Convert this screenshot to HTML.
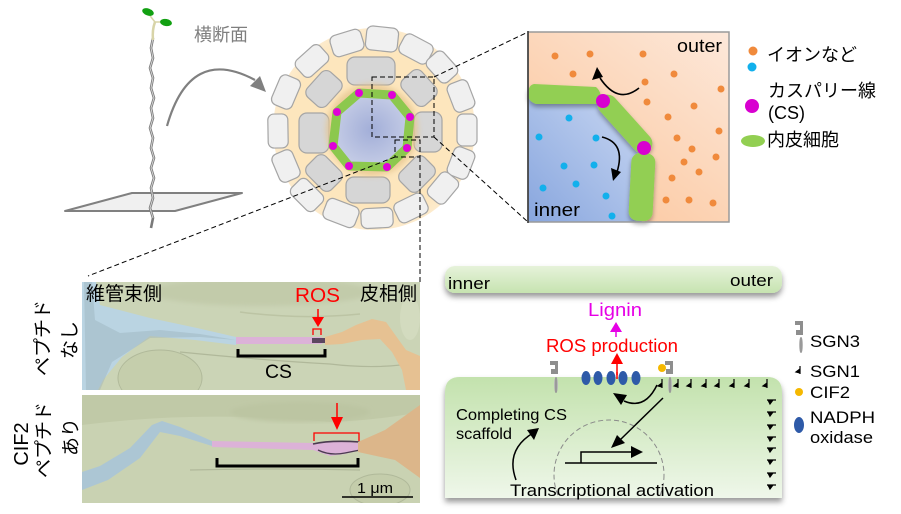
<!DOCTYPE html>
<html><head><meta charset="utf-8"><style>
html,body{margin:0;padding:0;background:#fff;}
svg{display:block;}
</style></head><body>
<svg width="901" height="514" viewBox="0 0 901 514" xmlns="http://www.w3.org/2000/svg" font-family="'Liberation Sans','Noto Sans CJK JP',sans-serif">
<defs>
 <radialGradient id="stele" cx="50%" cy="50%" r="55%"><stop offset="0" stop-color="#a2aed8"/><stop offset="1" stop-color="#c8cfe7"/></radialGradient>
 <radialGradient id="yel" cx="50%" cy="50%" r="50%"><stop offset="0.85" stop-color="#fde6bd"/><stop offset="1" stop-color="#fdebcc"/></radialGradient>
 <linearGradient id="peach" x1="1" y1="0" x2="0.2" y2="1"><stop offset="0" stop-color="#fde8da"/><stop offset="1" stop-color="#fbc69c"/></linearGradient>
 <linearGradient id="blue" x1="1" y1="0" x2="0" y2="1"><stop offset="0" stop-color="#cbd9f3"/><stop offset="1" stop-color="#88a6de"/></linearGradient>
 <linearGradient id="bar" x1="0" y1="0" x2="0" y2="1"><stop offset="0" stop-color="#e6f2da"/><stop offset="1" stop-color="#c6e3b0"/></linearGradient>
 <linearGradient id="cell" x1="0" y1="0" x2="0" y2="1"><stop offset="0" stop-color="#c3e2ad"/><stop offset="1" stop-color="#eff7ea"/></linearGradient>
 <linearGradient id="stem3" x1="0" y1="0" x2="1" y2="0"><stop offset="0" stop-color="#c8c8c8"/><stop offset="0.5" stop-color="#8a8a8a"/><stop offset="1" stop-color="#c8c8c8"/></linearGradient>
 <filter id="sh" x="-20%" y="-20%" width="140%" height="160%"><feDropShadow dx="0" dy="3" stdDeviation="2.5" flood-color="#000" flood-opacity="0.35"/></filter>
 <filter id="sh2" x="-20%" y="-30%" width="140%" height="180%"><feDropShadow dx="0" dy="4" stdDeviation="3" flood-color="#000" flood-opacity="0.4"/></filter>
 <filter id="blur3"><feGaussianBlur stdDeviation="3"/></filter>
 <filter id="blur2"><feGaussianBlur stdDeviation="2"/></filter>
 <clipPath id="cellclip"><path d="M445,392 Q445,377 460,377 L767,377 Q782,377 782,392 L782,498 L445,498 Z"/></clipPath>
 <clipPath id="tem1"><rect x="82" y="282" width="338" height="108"/></clipPath>
 <clipPath id="tem2"><rect x="82" y="395" width="338" height="108"/></clipPath>
</defs>

<!-- ===== Seedling ===== -->
<polygon points="65,211 132,193 242,193 175,211" fill="#f0f0f0" stroke="#808080" stroke-width="2" stroke-linejoin="round"/>
<path d="M153,38 L151,48 L153,58 L150,68 L153,78 L151,88 L154,98 L151,108 L153,118 L150,128 L153,138 L151,148 L154,158 L151,168 L154,178 L151,188 L153,198 L150,208 L153,218 L151,228" fill="none" stroke="#7a7a7a" stroke-width="2.6"/>
<path d="M153,38 L151,48 L153,58 L150,68 L153,78 L151,88 L154,98 L151,108 L153,118 L150,128 L153,138 L151,148 L154,158 L151,168 L154,178 L151,188 L153,198 L150,208 L153,218" fill="none" stroke="#d8d8d8" stroke-width="0.9"/>
<path d="M155,22 Q152,30 153,40" fill="none" stroke="#d8d4a8" stroke-width="2.5"/>
<path d="M155,22 Q150,16 149,14" fill="none" stroke="#d8d4a8" stroke-width="1.5"/>
<path d="M155,22 Q159,22 162,22" fill="none" stroke="#d8d4a8" stroke-width="1.5"/>
<ellipse cx="148" cy="12" rx="6" ry="3.5" transform="rotate(20 148 12)" fill="#12a012"/>
<ellipse cx="166" cy="22.5" rx="6" ry="3.5" transform="rotate(10 166 22.5)" fill="#12a012"/>
<text x="194" y="41" font-size="18" fill="#7f7f7f">横断面</text>
<path d="M167,126 Q190,45 255,80" fill="none" stroke="#808080" stroke-width="2.2"/>
<polygon points="266,92 250,86 260,76" fill="#808080"/>

<!-- ===== Cross section ===== -->
<circle cx="374" cy="129" r="101" fill="url(#yel)"/>
<g fill="#f0f0f0" stroke="#a5a5a5" stroke-width="1.2">
 <rect x="-16" y="-11" width="32" height="22" rx="6" transform="translate(312,61) rotate(-42)"/>
 <rect x="-16" y="-11" width="32" height="22" rx="6" transform="translate(347,43) rotate(-17)"/>
 <rect x="-16" y="-12" width="32" height="24" rx="6" transform="translate(382,39) rotate(6)"/>
 <rect x="-16" y="-11" width="32" height="22" rx="6" transform="translate(416,49) rotate(28)"/>
 <rect x="-15" y="-11" width="30" height="22" rx="6" transform="translate(442,67) rotate(48)"/>
 <rect x="-15" y="-11" width="30" height="22" rx="6" transform="translate(461,96) rotate(69)"/>
 <rect x="-16" y="-10" width="32" height="20" rx="6" transform="translate(467,130) rotate(90)"/>
 <rect x="-15" y="-11" width="30" height="22" rx="6" transform="translate(461,163) rotate(111)"/>
 <rect x="-15" y="-11" width="30" height="22" rx="6" transform="translate(443,188) rotate(130)"/>
 <rect x="-16" y="-11" width="32" height="22" rx="6" transform="translate(411,208) rotate(154)"/>
 <rect x="-16" y="-10" width="32" height="20" rx="6" transform="translate(377,218) rotate(177)"/>
 <rect x="-17" y="-11" width="34" height="22" rx="6" transform="translate(341,213) rotate(201)"/>
 <rect x="-16" y="-11" width="32" height="22" rx="6" transform="translate(307,195) rotate(225)"/>
 <rect x="-15" y="-11" width="30" height="22" rx="6" transform="translate(286,166) rotate(247)"/>
 <rect x="-17" y="-10" width="34" height="20" rx="6" transform="translate(278,131) rotate(269)"/>
 <rect x="-16" y="-11" width="32" height="22" rx="6" transform="translate(286,92) rotate(-67)"/>
</g>
<g fill="#d6d6d6" stroke="#a5a5a5" stroke-width="1.2">
 <rect x="-24" y="-14" width="48" height="28" rx="8" transform="translate(371,71)"/>
 <rect x="-17" y="-13" width="34" height="26" rx="7" transform="translate(419,88) rotate(48)"/>
 <rect x="-20" y="-14" width="40" height="28" rx="8" transform="translate(428,132) rotate(90)"/>
 <rect x="-17" y="-13" width="34" height="26" rx="7" transform="translate(417,174) rotate(135)"/>
 <rect x="-22" y="-13" width="44" height="26" rx="8" transform="translate(368,190) rotate(180)"/>
 <rect x="-17" y="-13" width="34" height="26" rx="7" transform="translate(324,173) rotate(225)"/>
 <rect x="-20" y="-15" width="40" height="30" rx="8" transform="translate(314,133) rotate(270)"/>
 <rect x="-17" y="-13" width="34" height="26" rx="7" transform="translate(324,89) rotate(312)"/>
</g>
<circle cx="372" cy="130" r="46" fill="#e6c690" opacity="0.8" filter="url(#blur3)"/>
<polygon points="359,93 392,95 410,117 407,148 387,167 349,166 333,146 337,112" fill="url(#stele)" stroke="#8cc84e" stroke-width="9" stroke-linejoin="round"/>
<g fill="#e000d8">
 <circle cx="359" cy="93" r="4"/><circle cx="392" cy="95" r="4"/><circle cx="410" cy="117" r="4"/><circle cx="407" cy="148" r="4"/>
 <circle cx="387" cy="167" r="4"/><circle cx="349" cy="166" r="4"/><circle cx="333" cy="146" r="4"/><circle cx="337" cy="112" r="4"/>
</g>
<!-- dashed boxes and connectors -->
<g fill="none" stroke="#000" stroke-width="1" stroke-dasharray="5,3">
 <rect x="372" y="77" width="62" height="60"/>
 <rect x="395" y="140" width="25" height="17"/>
 <line x1="434" y1="77" x2="528" y2="32"/>
 <line x1="434" y1="137" x2="528" y2="222"/>
 <line x1="395" y1="157" x2="88" y2="276"/>
 <line x1="420" y1="157" x2="420" y2="282"/>
</g>

<!-- ===== Inset ===== -->
<rect x="528" y="32" width="201" height="190" fill="url(#peach)"/>
<path d="M528,94 L602,100 L646,150 L642,222 L528,222 Z" fill="url(#blue)"/>
<g fill="#f08a3c">
 <circle cx="555" cy="56" r="3.5"/><circle cx="590" cy="54" r="3.5"/><circle cx="643" cy="54" r="3.5"/><circle cx="573" cy="74" r="3.5"/>
 <circle cx="674" cy="74" r="3.5"/><circle cx="645" cy="82" r="3.5"/><circle cx="721" cy="89" r="3.5"/><circle cx="647" cy="102" r="3.5"/>
 <circle cx="694" cy="106" r="3.5"/><circle cx="668" cy="117" r="3.5"/><circle cx="719" cy="131" r="3.5"/><circle cx="677" cy="138" r="3.5"/>
 <circle cx="692" cy="149" r="3.5"/><circle cx="716" cy="157" r="3.5"/><circle cx="684" cy="162" r="3.5"/><circle cx="699" cy="172" r="3.5"/>
 <circle cx="672" cy="178" r="3.5"/><circle cx="666" cy="200" r="3.5"/><circle cx="689" cy="200" r="3.5"/><circle cx="713" cy="203" r="3.5"/>
</g>
<g fill="#12b0ec">
 <circle cx="569" cy="118" r="3.5"/><circle cx="539" cy="137" r="3.5"/><circle cx="596" cy="138" r="3.5"/><circle cx="564" cy="166" r="3.5"/>
 <circle cx="594" cy="165" r="3.5"/><circle cx="543" cy="188" r="3.5"/><circle cx="576" cy="184" r="3.5"/><circle cx="606" cy="196" r="3.5"/>
 <circle cx="612" cy="216" r="3.5"/>
</g>
<g fill="#92cf52" filter="url(#sh)">
 <path d="M534,84 L596,87 Q604,94 598,104 L536,104 Q527,101 528,92 Q529,85 534,84 Z"/>
 <rect x="-36" y="-10" width="72" height="20" rx="10" transform="translate(625,124) rotate(48)"/>
 <rect x="-12" y="-34" width="24" height="68" rx="9" transform="translate(642,187) rotate(3)"/>
</g>
<circle cx="603" cy="101" r="7" fill="#d800d0"/>
<circle cx="644" cy="148" r="7" fill="#d800d0"/>
<path d="M639,88 Q618,105 600,78" fill="none" stroke="#000" stroke-width="1.6"/>
<polygon points="597,67 592,80 603,77" fill="#000"/>
<path d="M602,137 Q626,143 617,172" fill="none" stroke="#000" stroke-width="1.6"/>
<polygon points="613,181 611,168 621,172" fill="#000"/>
<rect x="528" y="32" width="201" height="190" fill="none" stroke="#9a9a9a" stroke-width="1.5"/>
<line x1="528" y1="31" x2="528" y2="223" stroke="#333" stroke-width="1.5"/>
<text x="677" y="52" font-size="18" fill="#000" textLength="45" lengthAdjust="spacingAndGlyphs">outer</text>
<text x="534" y="216" font-size="18" fill="#000" textLength="46" lengthAdjust="spacingAndGlyphs">inner</text>
<!-- legend -->
<circle cx="753" cy="51" r="4.5" fill="#f08a3c"/>
<circle cx="752" cy="67" r="4.5" fill="#12b0ec"/>
<text x="767" y="61" font-size="18">イオンなど</text>
<circle cx="752" cy="106" r="7" fill="#d800d0"/>
<text x="768" y="97" font-size="18">カスパリー線</text>
<text x="768" y="119" font-size="18">(CS)</text>
<ellipse cx="753" cy="141" rx="12" ry="6" fill="#92cf52"/>
<text x="767" y="146" font-size="18">内皮細胞</text>

<!-- ===== TEM images ===== -->
<g clip-path="url(#tem1)">
 <rect x="82" y="282" width="338" height="108" fill="#cbd4b6"/>
 <ellipse cx="260" cy="292" rx="110" ry="14" fill="#c2cbaa" filter="url(#blur2)"/>
 <ellipse cx="160" cy="378" rx="42" ry="28" fill="#c5ceac" stroke="#b0b99a" stroke-width="1"/>
 <path d="M180,352 Q260,360 330,364 Q380,370 420,362" fill="none" stroke="#b0b89a" stroke-width="1.2"/>
 <path d="M240,312 Q300,320 360,314" fill="none" stroke="#bcc4a4" stroke-width="1.5"/>
 <ellipse cx="410" cy="318" rx="10" ry="22" fill="#d3dbbf"/>
 <path d="M82,282 L96,282 L100,305 L150,318 L197,328 L236,337 L236,345 L195,340 L150,336 L122,357 L103,380 L98,390 L82,390 Z" fill="#bad4e2"/>
 <path d="M84,282 L92,282 L95,320 L120,333 L160,330 L200,334 L236,340 L200,337 L150,338 L112,362 L100,390 L86,390 Z" fill="#98aeb8" opacity="0.4"/>
 <rect x="236" y="337" width="86" height="7" fill="#dcb2d8"/>
 <rect x="312" y="338" width="13" height="5" fill="#5c4660"/>
 <path d="M325,337 L342,332 L356,325 L372,319 L386,322 L396,336 L406,350 L420,356 L420,390 L406,390 L402,370 L392,352 L380,339 L362,340 L342,344 L325,345 Z" fill="#e6c192"/>
</g>
<g clip-path="url(#tem2)">
 <rect x="82" y="395" width="338" height="108" fill="#c9d2b2"/>
 <path d="M82,425 Q200,410 330,422 Q380,420 420,412 L420,395 L82,395 Z" fill="#c0c9a7"/>
 <ellipse cx="300" cy="412" rx="70" ry="10" fill="#bcc5a2" filter="url(#blur2)"/>
 <path d="M190,470 Q280,468 360,470" fill="none" stroke="#b0b89a" stroke-width="1.2"/>
 <ellipse cx="380" cy="490" rx="30" ry="16" fill="#c4cdab" stroke="#b0b99a" stroke-width="1"/>
 <path d="M82,472 L100,466 L130,448 L152,425 L162,421 L180,427 L212,441 L212,446 L180,436 L160,432 L140,458 L108,480 L82,490 Z" fill="#acc6d4"/>
 <path d="M212,441 L313,443 L335,441 L360,443 L360,450 L345,454 L330,456 L313,450 L212,447 Z" fill="#dcb2d8"/>
 <path d="M313,444 Q330,440 360,442" fill="none" stroke="#4a3a50" stroke-width="1.6"/>
 <path d="M318,450 Q330,456 345,453 L360,450" fill="none" stroke="#4a3a50" stroke-width="1.3"/>
 <path d="M358,442 L385,430 L420,405 L420,478 L395,460 L358,452 Z" fill="#dcb68a"/>
</g>
<rect x="82" y="390" width="338" height="5" fill="#fff"/>
<text x="86" y="300" font-size="19">維管束側</text>
<text x="360" y="300" font-size="19">皮相側</text>
<text x="295" y="302" font-size="20" fill="#ff0000" textLength="45" lengthAdjust="spacingAndGlyphs">ROS</text>
<line x1="318" y1="309" x2="318" y2="318" stroke="#ff0000" stroke-width="1.5"/>
<polygon points="312,317 324,317 318,327" fill="#ff0000"/>
<path d="M313,335 V329 H321 V335" fill="none" stroke="#ff0000" stroke-width="1.3"/>
<path d="M238,349 V356 H325 V349" fill="none" stroke="#000" stroke-width="3"/>
<text x="265" y="378" font-size="19" textLength="27" lengthAdjust="spacingAndGlyphs">CS</text>
<line x1="337" y1="403" x2="337" y2="418" stroke="#ff0000" stroke-width="1.5"/>
<polygon points="331,417 343,417 337,430" fill="#ff0000"/>
<path d="M314,441 V433 H359 V441" fill="none" stroke="#ff0000" stroke-width="1.3"/>
<path d="M217,458 V466 H358 V458" fill="none" stroke="#000" stroke-width="3"/>
<line x1="342" y1="497" x2="413" y2="497" stroke="#000" stroke-width="1.5"/>
<text x="357" y="493" font-size="15" textLength="36" lengthAdjust="spacingAndGlyphs">1 μm</text>
<!-- vertical labels -->
<text transform="translate(49,338) rotate(-90)" text-anchor="middle" font-size="19">ペプチド</text>
<text transform="translate(76,340) rotate(-90)" text-anchor="middle" font-size="19">なし</text>
<text transform="translate(28,444) rotate(-90)" text-anchor="middle" font-size="20">CIF2</text>
<text transform="translate(50,440) rotate(-90)" text-anchor="middle" font-size="19">ペプチド</text>
<text transform="translate(77,437) rotate(-90)" text-anchor="middle" font-size="19">あり</text>

<!-- ===== Right model ===== -->
<rect x="445" y="266" width="337" height="27" rx="10" fill="url(#bar)" filter="url(#sh2)"/>
<text x="448" y="289" font-size="17" textLength="42" lengthAdjust="spacingAndGlyphs">inner</text>
<text x="730" y="286" font-size="17" textLength="43" lengthAdjust="spacingAndGlyphs">outer</text>
<text x="588" y="316" font-size="18" fill="#e600e6" textLength="54" lengthAdjust="spacingAndGlyphs">Lignin</text>
<line x1="616" y1="337" x2="616" y2="330" stroke="#e600e6" stroke-width="1.5"/>
<polygon points="610,332 622,332 616,322" fill="#e600e6"/>
<text x="546" y="352" font-size="18" fill="#ff0000" textLength="132" lengthAdjust="spacingAndGlyphs">ROS production</text>
<line x1="617" y1="375" x2="617" y2="362" stroke="#ff0000" stroke-width="1.5"/>
<polygon points="611,364 623,364 617,353" fill="#ff0000"/>

<path d="M445,392 Q445,377 460,377 L767,377 Q782,377 782,392 L782,498 L445,498 Z" fill="url(#cell)" filter="url(#sh2)"/>
<g clip-path="url(#cellclip)">
 <circle cx="609" cy="475" r="55" fill="none" stroke="#8a8a8a" stroke-width="1" stroke-dasharray="5,3"/>
</g>
<!-- NADPH -->
<g fill="#2e5aa8">
 <ellipse cx="586" cy="378" rx="4.5" ry="7"/><ellipse cx="598" cy="378" rx="4.5" ry="7"/><ellipse cx="611" cy="378" rx="4.5" ry="7"/>
 <ellipse cx="623" cy="378" rx="4.5" ry="7"/><ellipse cx="636" cy="378" rx="4.5" ry="7"/>
</g>
<line x1="617" y1="372" x2="617" y2="379" stroke="#ff0000" stroke-width="1.5"/>
<!-- SGN3 left -->
<path d="M550,361 H558 V374 H551 V369 H555 V365 H550 Z" fill="#8e8e8e"/>
<ellipse cx="556" cy="385" rx="2" ry="8" fill="url(#stem3)"/>
<!-- SGN3 right -->
<path d="M665,361 H673 V374 H666 V369 H670 V365 H665 Z" fill="#8e8e8e"/>
<ellipse cx="670" cy="385" rx="2" ry="8" fill="url(#stem3)"/>
<circle cx="662" cy="368" r="4" fill="#f5b800"/>
<!-- SGN1 ticks top -->
<g fill="#000" stroke="#000" stroke-width="1.2">
 <path d="M662,379 V388 M662,383 L658,386 L662,387 Z"/>
 <path d="M678,379 V388 M678,383 L674,386 L678,387 Z"/>
 <path d="M691,379 V388 M691,383 L687,386 L691,387 Z"/>
 <path d="M706,379 V388 M706,383 L702,386 L706,387 Z"/>
 <path d="M719,379 V388 M719,383 L715,386 L719,387 Z"/>
 <path d="M734,379 V388 M734,383 L730,386 L734,387 Z"/>
 <path d="M749,379 V388 M749,383 L745,386 L749,387 Z"/>
 <path d="M767,379 V388 M767,383 L763,386 L767,387 Z"/>
</g>
<g fill="#000" stroke="#000" stroke-width="1.2">
 <path d="M767,400 H776 M768,400 L773,400 L770,404 Z"/>
 <path d="M767,412 H776 M768,412 L773,412 L770,416 Z"/>
 <path d="M767,425 H776 M768,425 L773,425 L770,429 Z"/>
 <path d="M767,437 H776 M768,437 L773,437 L770,441 Z"/>
 <path d="M767,448 H776 M768,448 L773,448 L770,452 Z"/>
 <path d="M767,460 H776 M768,460 L773,460 L770,464 Z"/>
 <path d="M767,473 H776 M768,473 L773,473 L770,477 Z"/>
 <path d="M767,485 H776 M768,485 L773,485 L770,489 Z"/>
</g>
<!-- arrows inside cell -->
<path d="M657,385 Q645,410 624,401" fill="none" stroke="#000" stroke-width="1.5"/>
<polygon points="613,393 627,395 621,405" fill="#000"/>
<line x1="663" y1="398" x2="620" y2="440" stroke="#000" stroke-width="1.5"/>
<polygon points="611,448 617,435 625,443" fill="#000"/>
<path d="M516,480 Q505,450 533,433" fill="none" stroke="#000" stroke-width="1.5"/>
<polygon points="539,428 527,430 534,440" fill="#000"/>
<line x1="565" y1="463" x2="657" y2="463" stroke="#000" stroke-width="1.5"/>
<path d="M581,463 V452 H633" fill="none" stroke="#000" stroke-width="1.5"/>
<polygon points="643,452 631,446 631,458" fill="#000"/>
<text x="456" y="420" font-size="15.5" textLength="111" lengthAdjust="spacingAndGlyphs">Completing CS</text>
<text x="456" y="439" font-size="15.5" textLength="56" lengthAdjust="spacingAndGlyphs">scaffold</text>
<text x="510" y="496" font-size="16.5" textLength="204" lengthAdjust="spacingAndGlyphs">Transcriptional activation</text>
<!-- legend right -->
<path d="M795,321 H803 V335 H796 V330 H800 V325 H795 Z" fill="#8e8e8e"/>
<ellipse cx="801" cy="345" rx="2" ry="8" fill="url(#stem3)"/>
<text x="810" y="347" font-size="17" textLength="50" lengthAdjust="spacingAndGlyphs">SGN3</text>
<path d="M800,366 V374 M800,369 L796,372 L800,373 Z" fill="#000" stroke="#000" stroke-width="1.2"/>
<text x="810" y="377" font-size="17" textLength="50" lengthAdjust="spacingAndGlyphs">SGN1</text>
<circle cx="799" cy="392" r="4" fill="#f5b800"/>
<text x="810" y="398" font-size="17" textLength="40" lengthAdjust="spacingAndGlyphs">CIF2</text>
<ellipse cx="799" cy="425" rx="5" ry="8" fill="#2e5aa8"/>
<text x="810" y="423" font-size="17" textLength="65" lengthAdjust="spacingAndGlyphs">NADPH</text>
<text x="810" y="443" font-size="17" textLength="63" lengthAdjust="spacingAndGlyphs">oxidase</text>
</svg>
</body></html>
